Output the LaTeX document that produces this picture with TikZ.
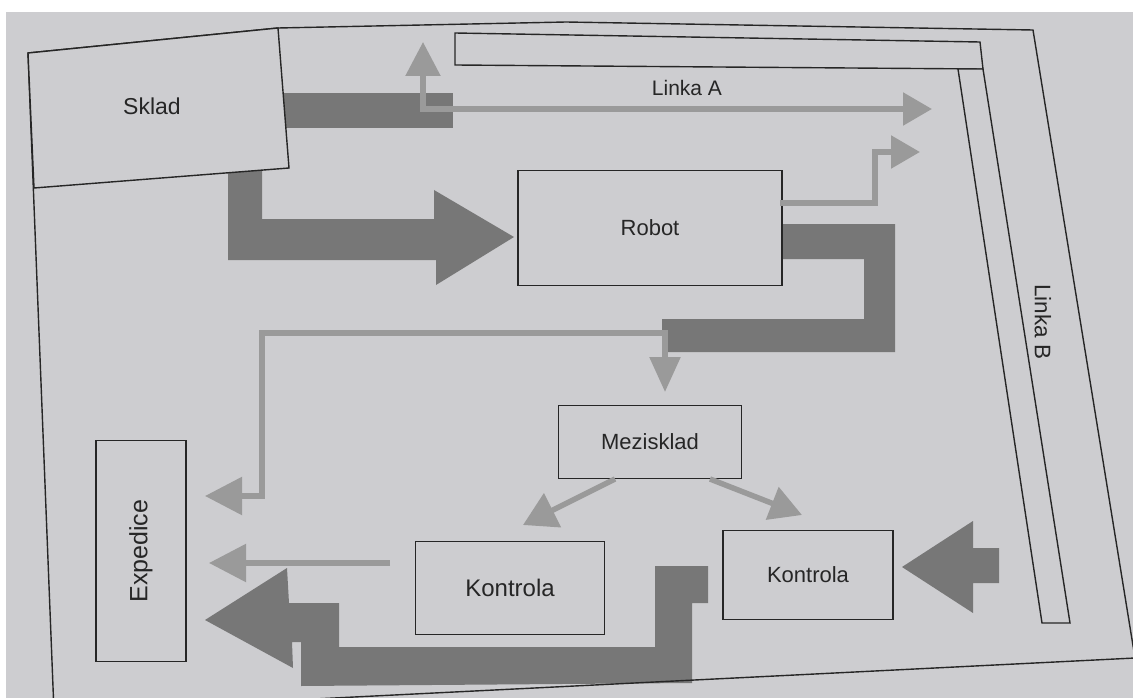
\documentclass[tikz,border=0pt]{standalone}
\usepackage{fontspec}
\setmainfont{Liberation Sans}
\usetikzlibrary{arrows.meta,calc}
\definecolor{page}{HTML}{CDCDD0}
\definecolor{darkflow}{HTML}{777777}
\definecolor{lightflow}{HTML}{9A9A9A}
\definecolor{ink}{HTML}{262626}
\pgfdeclarelayer{back}
\pgfsetlayers{back,main}
\newcommand{\fs}[1]{\fontsize{#1}{#1}\selectfont}
\tikzset{
  box/.style={draw=ink, line width=1.4pt, fill=page, inner sep=0pt, text=ink},
  lbl/.style={text=ink, inner sep=0pt},
  outline/.style={draw=ink, line width=1.4pt},
  bigflow/.style={fill=darkflow},
  thinflow/.style={draw=lightflow, line width=5.5pt, line join=miter, line cap=butt},
}
\begin{document}
\begin{tikzpicture}[x=1pt,y=-1pt]
\useasboundingbox (0,0) rectangle (1133,698);
\clip (0,0) rectangle (1133,698);

% ---------- frame and lines ----------
\draw[outline] (28,53) -- (278,28) -- (566,22) -- (1033,30) -- (1135,658) -- (54,712) -- cycle;
\draw[outline, fill=page] (28,53) -- (278,28) -- (289,168) -- (34,188) -- cycle;
\node[lbl, font=\fs{23}] (sklad) at (152,106) {Sklad};

\draw[outline, fill=page] (455,33) -- (980,42) -- (983,69) -- (455,65) -- cycle;
\draw[outline, fill=page] (958,69) -- (983,69) -- (1070,623) -- (1042,623) -- cycle;
\node[lbl, font=\fs{21}] (linkaA) at (687,88) {Linka A};
\node[lbl, font=\fs{22.5}, rotate=-90] (linkaB) at (1043,322) {Linka B};

% ---------- nodes ----------
\node[box, font=\fs{22}, minimum width=264pt, minimum height=115pt] (robot) at (650,228) {Robot};
\node[box, font=\fs{22}, minimum width=183pt, minimum height=73pt] (mez) at (650,442) {Mezisklad};
\node[box, font=\fs{24}, minimum width=189pt, minimum height=93pt] (kl) at (510,588) {Kontrola};
\node[box, font=\fs{22}, minimum width=170pt, minimum height=89pt] (kr) at (808,575) {Kontrola};
\node[box, font=\fs{25}, rotate=90, minimum width=221pt, minimum height=90pt] (exp) at (141,551) {Expedice};

% ---------- big flows (behind) ----------
\begin{pgfonlayer}{back}
\fill[white] (0,0) rectangle (1133,698);
\fill[page] (6,12) rectangle (1133,698);
\fill[bigflow] (280,93) rectangle (453,128);
\fill[bigflow] (228,165) -- (262,165) -- (262,219) -- (434,219) -- (434,190)
  -- (514,237) -- (436,285) -- (436,260) -- (228,260) -- cycle;
\fill[bigflow] (775,224) -- (895,224) -- (895,352) -- (662,352) -- (662,319)
  -- (864,319) -- (864,259) -- (775,259) -- cycle;
\fill[bigflow] (902,567) -- (973,521) -- (973,548) -- (999,548) -- (999,583)
  -- (973,583) -- (973,613) -- cycle;
\fill[bigflow] (205,620) -- (287,568) -- (289,603) -- (339,603) -- (339,647)
  -- (655,647) -- (655,566) -- (708,566) -- (708,603) -- (692,603)
  -- (692,683) -- (301,686) -- (301,642) -- (292,642) -- (293,668) -- cycle;
\end{pgfonlayer}

% ---------- thin flows ----------
\coordinate (upEnd) at (423,42);
\coordinate (laEnd) at (932,109);
\coordinate (rbStart) at (780,203);
\coordinate (rbEnd) at (920,152);
\coordinate (expTop) at (205,496);
\coordinate (mezIn) at (665,392);
\coordinate (klStart) at (390,563);
\coordinate (expMid) at (209,563);
\coordinate (m1) at (615,479);
\coordinate (klIn) at (523,525);
\coordinate (m2) at (710,479);
\coordinate (krIn) at (802,515);

\draw[thinflow, {Triangle[length=34pt,width=34pt]}-{Triangle[length=29pt,width=32pt]}]
  (upEnd) -- (upEnd |- laEnd) -- (laEnd);
\draw[thinflow, -{Triangle[length=29pt,width=32pt]}]
  (rbStart) -- (875,203) -- (875,152) -- (rbEnd);
\draw[thinflow, {Triangle[length=37pt,width=37pt]}-{Triangle[length=35pt,width=30pt]}]
  (expTop) -- (262,496) -- (262,333) -- (mezIn |- 0,333) -- (mezIn);
\draw[thinflow, -{Triangle[length=37pt,width=37pt]}] (klStart) -- (expMid);
\draw[thinflow, -{Triangle[length=33pt,width=37pt]}] (m1) -- (klIn);
\draw[thinflow, -{Triangle[length=32pt,width=34pt]}] (m2) -- (krIn);
\end{tikzpicture}
\end{document}
